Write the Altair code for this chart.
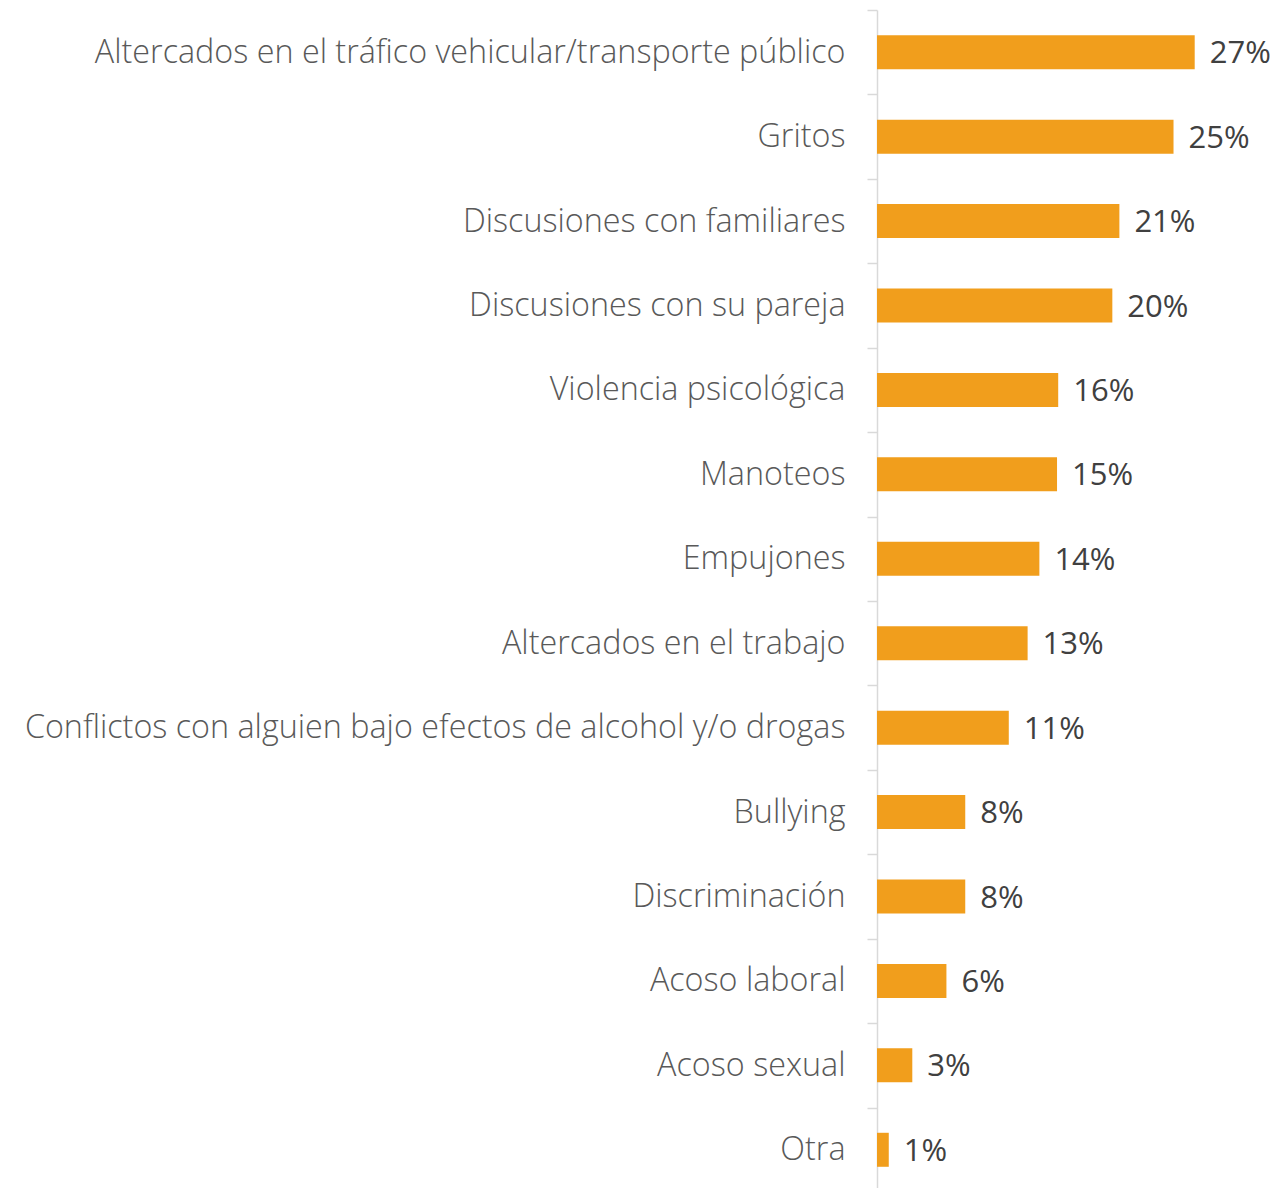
import altair as alt
import pandas as pd

categories = [
    "Altercados en el tráfico vehicular/transporte público",
    "Gritos",
    "Discusiones con familiares",
    "Discusiones con su pareja",
    "Violencia psicológica",
    "Manoteos",
    "Empujones",
    "Altercados en el trabajo",
    "Conflictos con alguien bajo efectos de alcohol y/o drogas",
    "Bullying",
    "Discriminación",
    "Acoso laboral",
    "Acoso sexual",
    "Otra",
]
values = [27.0, 25.2, 20.6, 20.0, 15.4, 15.3, 13.8, 12.8, 11.2, 7.5, 7.5, 5.9, 3.0, 1.0]
labels = ["27%", "25%", "21%", "20%", "16%", "15%", "14%", "13%", "11%", "8%", "8%", "6%", "3%", "1%"]

df = pd.DataFrame({"cat": categories, "val": values, "lab": labels})

y_enc = alt.Y(
    "cat:N",
    sort=categories,
    title=None,
    scale=alt.Scale(paddingInner=0, paddingOuter=0),
    axis=alt.Axis(
        domainColor="#d9d9d9",
        domainWidth=1.5,
        tickColor="#d9d9d9",
        tickWidth=1.5,
        tickSize=10,
        tickBand="extent",
        labelFont="Open Sans",
        labelFontWeight=300,
        labelFontSize=32.3,
        labelColor="#595959",
        labelPadding=22,
        labelLimit=1000,
    ),
)
x_enc = alt.X("val:Q", scale=alt.Scale(domain=[0, 30], nice=False), axis=None)

bars = alt.Chart(df).mark_bar(color="#F19E1C", size=34).encode(x=x_enc, y=y_enc)
text = alt.Chart(df).mark_text(
    align="left", baseline="middle", dx=15, dy=2, font="Open Sans", fontSize=31, color="#404040"
).encode(x=x_enc, y=alt.Y("cat:N", sort=categories), text="lab:N")

chart = alt.layer(bars, text).properties(
    width=353,
    height=1182,
    background="white",
    autosize=alt.AutoSizeParams(type="none"),
    padding={"left": 869, "top": 2, "right": 40, "bottom": 0},
).configure_view(strokeWidth=0, stroke="transparent")

chart.save("out.html", embed_options={"renderer": "svg", "actions": False})
